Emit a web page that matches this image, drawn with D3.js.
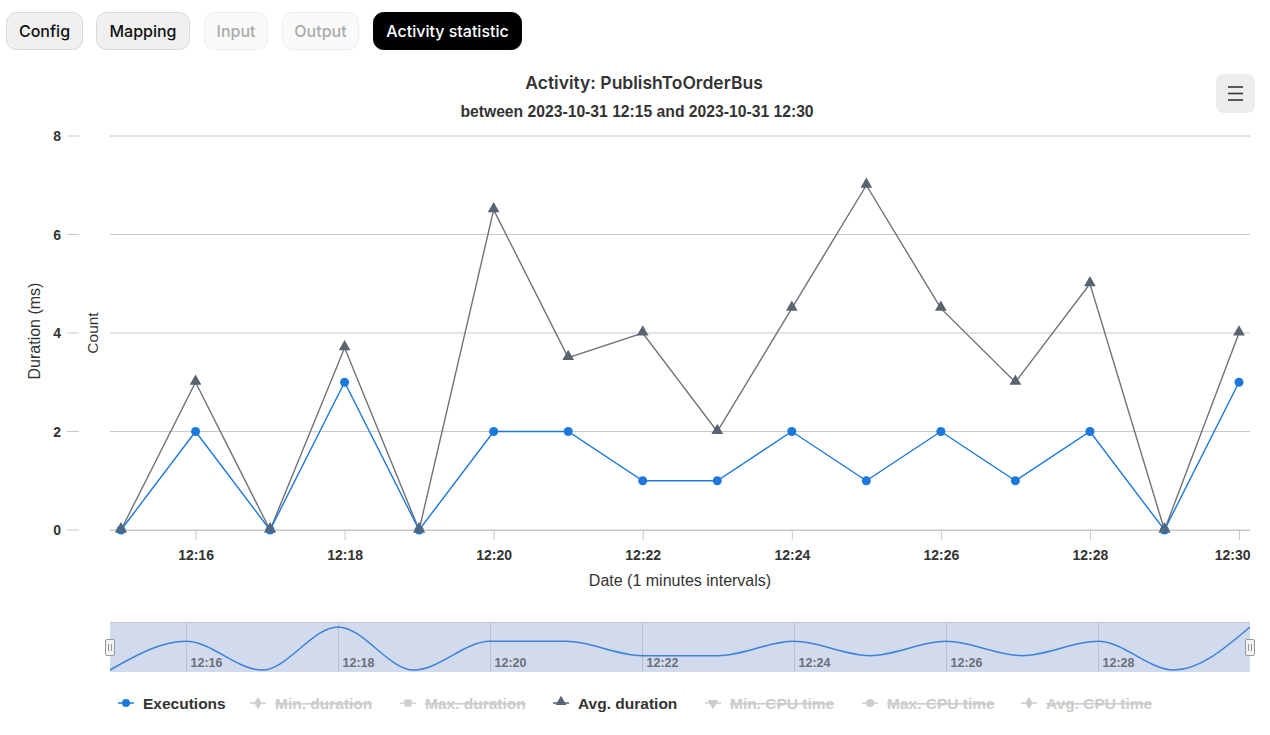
<!DOCTYPE html>
<html><head><meta charset="utf-8">
<script src="https://cdn.jsdelivr.net/npm/d3@7"></script>
<style>
html,body{margin:0;padding:0;background:#fff;}
svg{display:block;}
</style></head>
<body>
<svg id="chart" width="1270" height="735"></svg>
<script>
const buttons = ["Config","Mapping","Input","Output","Activity statistic"];
const buttonStates = ["normal","normal","disabled","disabled","active"];
const minutes = ["12:15","12:16","12:17","12:18","12:19","12:20","12:21","12:22","12:23","12:24","12:25","12:26","12:27","12:28","12:29","12:30"];
const executions = [0,2,0,3,0,2,2,1,1,2,1,2,1,2,0,3];
const avgDuration = [0,3,0,3.7,0,6.5,3.5,4,2,4.5,7,4.5,3,5,0,4];
const yTicks = [0,2,4,6,8];
const xTickLabels = ["12:16","12:18","12:20","12:22","12:24","12:26","12:28","12:30"];
const navTickLabels = ["12:16","12:18","12:20","12:22","12:24","12:26","12:28"];
const legendItems = ["Executions","Min. duration","Max. duration","Avg. duration","Min. CPU time","Max. CPU time","Avg. CPU time"];
const legendVisible = [true,false,false,true,false,false,false];
const legendSymbols = ["circle","diamond","square","triangle","triangle-down","circle","diamond"];

const parse = d3.timeParse("%H:%M");
const dates = minutes.map(parse);
const svg = d3.select("#chart");
const FONT = "'Liberation Sans', Arial, sans-serif";
const UIFONT = "Inter, 'Open Sans', sans-serif";

// ---- top buttons
const btnX = [6,96,204,282,373], btnW = [77,94,64,77,149];
const btns = svg.append("g");
buttons.forEach((b,i)=>{
  const st = buttonStates[i];
  const g = btns.append("g").attr("transform",`translate(${btnX[i]},12)`);
  g.append("rect").attr("x",0.5).attr("y",0.5).attr("width",btnW[i]-1).attr("height",37).attr("rx",10)
    .attr("fill", st==="active"?"#000":(st==="disabled"?"#fafafa":"#f0f0f0"))
    .attr("stroke", st==="active"?"#000":(st==="disabled"?"#eeeeee":"#d8d8d8"));
  g.append("text").attr("x",btnW[i]/2).attr("y",25).attr("text-anchor","middle")
    .attr("font-family",UIFONT).attr("font-size",16).attr("font-weight",500)
    .attr("fill", st==="active"?"#fff":(st==="disabled"?"#aaa":"#111")).text(b);
});

// ---- title
svg.append("text").attr("x",644).attr("y",89).attr("text-anchor","middle")
  .attr("font-family",UIFONT).attr("font-weight",600).attr("font-size",17.5).attr("fill","#333")
  .text("Activity: PublishToOrderBus");
svg.append("text").attr("x",637).attr("y",117).attr("text-anchor","middle")
  .attr("font-family",FONT).attr("font-weight","bold").attr("font-size",15.7).attr("fill","#333")
  .text("between 2023-10-31 12:15 and 2023-10-31 12:30");

// ---- menu button
const mb = svg.append("g").attr("transform","translate(1216,74)");
mb.append("rect").attr("width",39).attr("height",39).attr("rx",8).attr("fill","#ececec");
[13,19.5,26].forEach(y=>mb.append("line").attr("x1",12).attr("x2",27).attr("y1",y).attr("y2",y)
  .attr("stroke","#333").attr("stroke-width",1.6));

// ---- scales
const x = d3.scaleTime().domain([dates[0],dates[dates.length-1]]).range([121,1239]);
const y = d3.scaleLinear().domain([0,8]).range([530,136]);

// grid
const grid = svg.append("g");
yTicks.forEach(t=>{
  grid.append("line").attr("x1",110).attr("x2",1250).attr("y1",y(t)).attr("y2",y(t))
    .attr("stroke","#c8c8c8").attr("stroke-width",1);
  grid.append("line").attr("x1",67).attr("x2",79).attr("y1",y(t)).attr("y2",y(t))
    .attr("stroke","#c8c8c8").attr("stroke-width",1);
});
// y axis labels
const yAxis = d3.axisLeft(y).tickValues(yTicks).tickSize(0).tickPadding(0).tickFormat(d3.format("d"));
const yg = svg.append("g").attr("transform","translate(61,0)").call(yAxis);
yg.select(".domain").remove();
yg.selectAll("text").attr("font-family",FONT).attr("font-weight","bold").attr("font-size",14).attr("fill","#333").attr("dy","0.35em");

// x axis
const xAxis = d3.axisBottom(x).tickValues(xTickLabels.map(parse)).tickSize(10).tickPadding(10).tickFormat(d3.timeFormat("%H:%M"));
const xg = svg.append("g").attr("transform","translate(0,530)").call(xAxis);
xg.select(".domain").attr("d","M110,0.5H1250").attr("stroke","#c8c8c8");
xg.selectAll(".tick line").attr("stroke","#c8c8c8");
xg.selectAll("text").attr("font-family",FONT).attr("font-weight","bold").attr("font-size",14).attr("fill","#333");
xg.selectAll(".tick").filter(d=>+d===+parse("12:30")).select("text").attr("text-anchor","end").attr("x",11);

// axis titles
svg.append("text").attr("transform","translate(40,331) rotate(-90)").attr("text-anchor","middle")
  .attr("font-family",FONT).attr("font-size",16).attr("fill","#333").text("Duration (ms)");
svg.append("text").attr("transform","translate(98,333) rotate(-90)").attr("text-anchor","middle")
  .attr("font-family",FONT).attr("font-size",15.5).attr("fill","#333").text("Count");
svg.append("text").attr("x",680).attr("y",586).attr("text-anchor","middle")
  .attr("font-family",FONT).attr("font-size",16).attr("fill","#333").text("Date (1 minutes intervals)");

// series
const BLUE = "#1d78dc", GRAY = "#6c737b", TRI = "#5a6470";
const line = (vals)=>d3.line().x((d,i)=>x(dates[i])).y(d=>y(d))(vals);
svg.append("path").attr("d",line(avgDuration)).attr("fill","none").attr("stroke",GRAY).attr("stroke-width",1.4);
svg.append("path").attr("d",line(executions)).attr("fill","none").attr("stroke",BLUE).attr("stroke-width",1.4);
const tri = d3.symbol().type(d3.symbolTriangle).size(60);
svg.append("g").selectAll("path").data(avgDuration).join("path")
  .attr("d",tri).attr("transform",(d,i)=>`translate(${x(dates[i])},${y(d)-1})`).attr("fill",TRI);
svg.append("g").selectAll("circle").data(executions).join("circle")
  .attr("cx",(d,i)=>x(dates[i])).attr("cy",d=>y(d)).attr("r",4.5).attr("fill",BLUE);
svg.append("g").selectAll("path").data(avgDuration.map((d,i)=>({d,i})).filter(o=>o.d===0)).join("path")
  .attr("d",tri).attr("transform",o=>`translate(${x(dates[o.i])},${y(o.d)-1})`).attr("fill",TRI).attr("opacity",0.85);

// ---- navigator
const nx = d3.scaleTime().domain(x.domain()).range([110,1250]);
const ny = d3.scaleLinear().domain([0,3]).range([670,627]);
const nav = svg.append("g");
nav.append("rect").attr("x",110).attr("y",622).attr("width",1140).attr("height",50).attr("fill","#d2dbee");
nav.append("line").attr("x1",110).attr("x2",1250).attr("y1",622.5).attr("y2",622.5).attr("stroke","#c2c6cf");
navTickLabels.forEach(t=>{
  const xx = Math.round(nx(parse(t)))+0.5;
  nav.append("line").attr("x1",xx).attr("x2",xx).attr("y1",622).attr("y2",672).attr("stroke","#b8c0d2").attr("stroke-width",1);
  nav.append("text").attr("x",xx+4).attr("y",667).attr("font-family",FONT).attr("font-weight","bold")
    .attr("font-size",12.5).attr("fill","#6b6f78").text(t);
});
const nline = d3.line().x((d,i)=>nx(dates[i])).y(d=>ny(d)).curve(d3.curveMonotoneX);
nav.append("path").attr("d",nline(executions)).attr("fill","none").attr("stroke","#3b82dc").attr("stroke-width",1.5);
[110,1250].forEach(hx=>{
  const h = nav.append("g").attr("transform",`translate(${hx},648)`);
  h.append("rect").attr("x",-4.5).attr("y",-8.5).attr("width",9).attr("height",16).attr("rx",1.5)
    .attr("fill","#f2f2f2").attr("stroke","#999");
  h.append("line").attr("x1",-1.5).attr("x2",-1.5).attr("y1",-4).attr("y2",3).attr("stroke","#999");
  h.append("line").attr("x1",1.5).attr("x2",1.5).attr("y1",-4).attr("y2",3).attr("stroke","#999");
});

// ---- legend
const legX = [118,250,400,553,705,862,1021];
const leg = svg.append("g");
legendItems.forEach((name,i)=>{
  const vis = legendVisible[i];
  const col = vis ? (i===0?BLUE:TRI) : "#cccccc";
  const g = leg.append("g").attr("transform",`translate(${legX[i]},703)`);
  g.append("line").attr("x1",0).attr("x2",16).attr("y1",0).attr("y2",0).attr("stroke",col).attr("stroke-width",1.5);
  const st = legendSymbols[i];
  const typ = {circle:d3.symbolCircle,diamond:d3.symbolDiamond,square:d3.symbolSquare,triangle:d3.symbolTriangle,"triangle-down":d3.symbolTriangle}[st];
  g.append("path").attr("d",d3.symbol().type(typ).size(st==="diamond"?45:50)())
    .attr("transform",`translate(8,${st==="triangle"?-1:0})${st==="triangle-down"?" rotate(180)":""}`).attr("fill",col);
  g.append("text").attr("x",25).attr("y",5.5).attr("font-family",FONT).attr("font-weight","bold")
    .attr("font-size",15.5).attr("fill",vis?"#333":"#cccccc")
    .attr("text-decoration",vis?"none":"line-through").text(name);
});
</script>
</body></html>
